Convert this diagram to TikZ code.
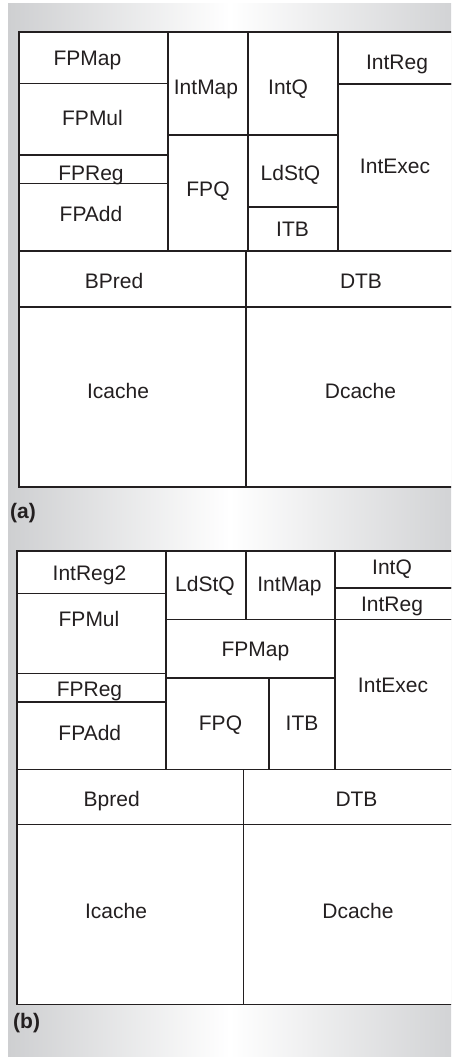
\documentclass[tikz,border=0pt]{standalone}
\usepackage{fontspec}
\setmainfont{Liberation Sans}
\definecolor{bgL}{RGB}{206,207,209}
\definecolor{bgR}{RGB}{210,211,213}
\definecolor{ink}{RGB}{35,31,32}
\tikzset{
  blk/.style={draw=ink, line width=1.2pt, fill=white},
  lbl/.style={anchor=base, inner sep=0pt, text=ink, font=\fontsize{21}{24}\selectfont},
  panellabel/.style={anchor=base west, inner sep=0pt, text=ink, font=\fontsize{21}{24}\selectfont\bfseries}
}
\begin{document}
\begin{tikzpicture}[x=1pt,y=-1pt]
\useasboundingbox (0,0) rectangle (451,1057);
\clip (0,0) rectangle (451,1057);
% background gradient
\shade[left color=bgL, right color=white] (8,4) rectangle (230,1058);
\shade[left color=white, right color=bgR] (229.5,4) rectangle (452,1058);

% ---------- panel (a) ----------
\draw[blk] (19,32) rectangle (168,83.5);
\draw[blk] (19,83.5) rectangle (168,155);
\draw[blk] (19,155) rectangle (168,183.5);
\draw[blk] (19,183.5) rectangle (168,251);
\draw[blk] (168,32) rectangle (248,135);
\draw[blk] (168,135) rectangle (248,251);
\draw[blk] (248,32) rectangle (338,135);
\draw[blk] (248,135) rectangle (338,207);
\draw[blk] (248,207) rectangle (338,251);
\draw[blk] (338,32) rectangle (455,84);
\draw[blk] (338,84) rectangle (455,251);
\draw[blk] (19,251) rectangle (246,307);
\draw[blk] (246,251) rectangle (455,307);
\draw[blk] (19,307) rectangle (246,487);
\draw[blk] (246,307) rectangle (455,487);

\node[lbl] (a-fpmap)  at (87.5,65.7) {FPMap};
\node[lbl] (a-fpmul)  at (92.5,125) {FPMul};
\node[lbl] (a-fpreg)  at (91,180) {FPReg};
\node[lbl] (a-fpadd)  at (91,221.7) {FPAdd};
\node[lbl] (a-intmap) at (206,94.3) {IntMap};
\node[lbl] (a-intq)   at (288,94.3) {IntQ};
\node[lbl] (a-intreg) at (397,69.3) {IntReg};
\node[lbl] (a-intexec) at (395,173.3) {IntExec};
\node[lbl] (a-ldstq)  at (290.5,180) {LdStQ};
\node[lbl] (a-itb)    at (292.5,236.7) {ITB};
\node[lbl] (a-fpq)    at (208,196.7) {FPQ};
\node[lbl] (a-bpred)  at (114,288.3) {BPred};
\node[lbl] (a-dtb)    at (361,288.3) {DTB};
\node[lbl] (a-icache) at (118,398.3) {Icache};
\node[lbl] (a-dcache) at (360.5,398.3) {Dcache};
\node[panellabel] (a-lab) at (10,518.5) {(a)};

% ---------- panel (b) ----------
\draw[blk] (17,551) rectangle (166,593.5);
\draw[blk] (17,593.5) rectangle (166,673.5);
\draw[blk] (17,673.5) rectangle (166,702);
\draw[blk] (17,702) rectangle (166,769.5);
\draw[blk] (166,551) rectangle (246,619.5);
\draw[blk] (246,551) rectangle (335,619.5);
\draw[blk] (166,619.5) rectangle (335,678);
\draw[blk] (166,678) rectangle (269,769.5);
\draw[blk] (269,678) rectangle (335,769.5);
\draw[blk] (335,551) rectangle (455,588);
\draw[blk] (335,588) rectangle (455,619.5);
\draw[blk] (335,619.5) rectangle (455,769.5);
\draw[blk] (17,769.5) rectangle (243.5,824.5);
\draw[blk] (243.5,769.5) rectangle (455,824.5);
\draw[blk] (17,824.5) rectangle (243.5,1004.5);
\draw[blk] (243.5,824.5) rectangle (455,1004.5);

\node[lbl] (b-intreg2) at (89.5,580) {IntReg2};
\node[lbl] (b-ldstq)   at (205,591.7) {LdStQ};
\node[lbl] (b-intmap)  at (289.5,591.7) {IntMap};
\node[lbl] (b-intq)    at (392,574) {IntQ};
\node[lbl] (b-intreg)  at (392,611) {IntReg};
\node[lbl] (b-fpmul)   at (89,626) {FPMul};
\node[lbl] (b-fpmap)   at (255.5,656) {FPMap};
\node[lbl] (b-intexec) at (393,692.7) {IntExec};
\node[lbl] (b-fpreg)   at (89.5,696) {FPReg};
\node[lbl] (b-fpq)     at (220.5,730) {FPQ};
\node[lbl] (b-itb)     at (302,730) {ITB};
\node[lbl] (b-fpadd)   at (89.8,740.7) {FPAdd};
\node[lbl] (b-bpred)   at (111.7,806) {Bpred};
\node[lbl] (b-dtb)     at (356.5,806) {DTB};
\node[lbl] (b-icache)  at (116,918.3) {Icache};
\node[lbl] (b-dcache)  at (358,918.3) {Dcache};
\node[panellabel] (b-lab) at (13,1028.5) {(b)};
\end{tikzpicture}
\end{document}
